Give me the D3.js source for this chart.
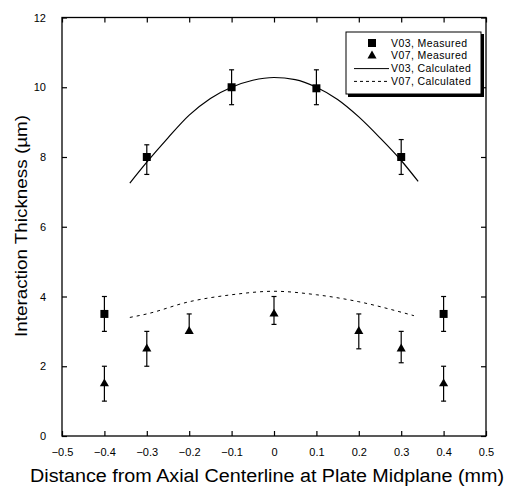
<!DOCTYPE html>
<html>
<head>
<meta charset="utf-8">
<script src="https://cdn.jsdelivr.net/npm/d3@7"></script>
<style>
  body { margin: 0; background: #fff; }
  svg { display: block; font-family: "Liberation Sans", Arial, sans-serif; }
</style>
</head>
<body>
<div id="chart"></div>
<script>
// measured points: [x, y, errLow, errHigh]
const v03Measured = [
  [-0.4, 3.5, 3.0, 4.0],
  [-0.3, 8.0, 7.5, 8.35],
  [-0.1, 10.0, 9.5, 10.5],
  [0.1, 9.97, 9.5, 10.5],
  [0.3, 8.0, 7.5, 8.5],
  [0.4, 3.5, 3.0, 4.0],
];
const v07Measured = [
  [-0.4, 1.5, 1.0, 2.0],
  [-0.3, 2.5, 2.0, 3.0],
  [-0.2, 3.0, 3.0, 3.5],
  [0, 3.5, 3.2, 4.0],
  [0.2, 3.0, 2.5, 3.5],
  [0.3, 2.5, 2.1, 3.0],
  [0.4, 1.5, 1.0, 2.0],
];
const v03Calc = [
  [-0.34, 7.25], [-0.3, 7.85], [-0.25, 8.55], [-0.2, 9.2], [-0.15, 9.68],
  [-0.1, 10.0], [-0.05, 10.2], [0, 10.28], [0.05, 10.22], [0.1, 10.0],
  [0.15, 9.65], [0.2, 9.15], [0.25, 8.55], [0.3, 7.9], [0.34, 7.3],
];
const v07Calc = [
  [-0.34, 3.4], [-0.3, 3.5], [-0.2, 3.85], [-0.1, 4.05], [0, 4.15],
  [0.1, 4.05], [0.2, 3.85], [0.3, 3.55], [0.33, 3.45],
];
const xTicks = [-0.5, -0.4, -0.3, -0.2, -0.1, 0, 0.1, 0.2, 0.3, 0.4, 0.5];
const yTicks = [0, 2, 4, 6, 8, 10, 12];
const legendItems = ["V03, Measured", "V07, Measured", "V03, Calculated", "V07, Calculated"];

const width = 506, height = 489;
const margin = { top: 17.5, right: 20, bottom: 53, left: 62 };

const svg = d3.select("#chart").append("svg")
  .attr("width", width)
  .attr("height", height);

const x = d3.scaleLinear().domain([-0.5, 0.5]).range([margin.left, width - margin.right]);
const y = d3.scaleLinear().domain([0, 12]).range([height - margin.bottom, margin.top]);

// frame
svg.append("rect")
  .attr("x", x(-0.5)).attr("y", y(12))
  .attr("width", x(0.5) - x(-0.5)).attr("height", y(0) - y(12))
  .attr("fill", "none").attr("stroke", "#000").attr("stroke-width", 1.3);

const fmtX = (d) => (d === 0 ? "0" : d3.format(".1f")(d));

// axes with inward ticks
svg.append("g")
  .attr("transform", `translate(0,${y(0)})`)
  .call(d3.axisBottom(x).tickValues(xTicks).tickSize(-5).tickPadding(12).tickFormat(fmtX))
  .call((g) => g.select(".domain").remove())
  .call((g) => g.selectAll("text").attr("font-size", 11).attr("font-family", "Liberation Sans, Arial, sans-serif"));

svg.append("g")
  .attr("transform", `translate(0,${y(12)})`)
  .call(d3.axisTop(x).tickValues(xTicks).tickSize(-5).tickFormat(""))
  .call((g) => g.select(".domain").remove());

svg.append("g")
  .attr("transform", `translate(${x(-0.5)},0)`)
  .call(d3.axisLeft(y).tickValues(yTicks).tickSize(-5).tickPadding(16))
  .call((g) => g.select(".domain").remove())
  .call((g) => g.selectAll("text").attr("font-size", 11).attr("font-family", "Liberation Sans, Arial, sans-serif"));

svg.append("g")
  .attr("transform", `translate(${x(0.5)},0)`)
  .call(d3.axisRight(y).tickValues(yTicks).tickSize(-5).tickFormat(""))
  .call((g) => g.select(".domain").remove());

svg.selectAll(".tick line").attr("stroke-width", 1.2);

// axis titles
svg.append("text")
  .attr("x", 30).attr("y", 482)
  .attr("font-size", 18)
  .attr("textLength", 474).attr("lengthAdjust", "spacingAndGlyphs")
  .text("Distance from Axial Centerline at Plate Midplane (mm)");

svg.append("text")
  .attr("transform", "translate(27,337) rotate(-90)")
  .attr("font-size", 17)
  .attr("textLength", 222).attr("lengthAdjust", "spacingAndGlyphs")
  .text("Interaction Thickness (\u00b5m)");

// calculated curves
const line = d3.line().x((d) => x(d[0])).y((d) => y(d[1])).curve(d3.curveMonotoneX);
svg.append("path").datum(v03Calc)
  .attr("d", line).attr("fill", "none").attr("stroke", "#000").attr("stroke-width", 1.2);
svg.append("path").datum(v07Calc)
  .attr("d", line).attr("fill", "none").attr("stroke", "#000").attr("stroke-width", 1)
  .attr("stroke-dasharray", "3,4");

// error bars
function errorBars(data) {
  const g = svg.append("g").attr("stroke", "#000").attr("stroke-width", 1.2);
  g.selectAll("line.v").data(data).join("line")
    .attr("x1", (d) => x(d[0])).attr("x2", (d) => x(d[0]))
    .attr("y1", (d) => y(d[2])).attr("y2", (d) => y(d[3]));
  g.selectAll("line.hi").data(data.filter((d) => d[3] > d[1])).join("line").attr("class", "hi")
    .attr("x1", (d) => x(d[0]) - 2.5).attr("x2", (d) => x(d[0]) + 2.5)
    .attr("y1", (d) => y(d[3])).attr("y2", (d) => y(d[3]));
  g.selectAll("line.lo").data(data.filter((d) => d[2] < d[1])).join("line").attr("class", "lo")
    .attr("x1", (d) => x(d[0]) - 2.5).attr("x2", (d) => x(d[0]) + 2.5)
    .attr("y1", (d) => y(d[2])).attr("y2", (d) => y(d[2]));
}
errorBars(v03Measured);
errorBars(v07Measured);

const square = d3.symbol().type(d3.symbolSquare).size(64);
const triangle = d3.symbol().type(d3.symbolTriangle).size(36);

svg.append("g").selectAll("path").data(v03Measured).join("path")
  .attr("transform", (d) => `translate(${x(d[0])},${y(d[1])})`)
  .attr("d", square).attr("fill", "#000");

svg.append("g").selectAll("path").data(v07Measured).join("path")
  .attr("transform", (d) => `translate(${x(d[0])},${y(d[1])})`)
  .attr("d", triangle).attr("fill", "#000");

// legend
const lg = svg.append("g").attr("transform", "translate(346,32)");
lg.append("rect").attr("x", 2).attr("y", 2).attr("width", 136).attr("height", 63).attr("fill", "#000");
lg.append("rect").attr("width", 135).attr("height", 62)
  .attr("fill", "#fff").attr("stroke", "#000").attr("stroke-width", 1);

const rowY = (i) => 11 + i * 12.8;
lg.selectAll("text").data(legendItems).join("text")
  .attr("x", 45).attr("y", (d, i) => rowY(i) + 3.5)
  .attr("font-size", 10.5).attr("letter-spacing", 0.4).text((d) => d);

lg.append("path").attr("transform", `translate(26,${rowY(0)})`).attr("d", square).attr("fill", "#000");
lg.append("path").attr("transform", `translate(26,${rowY(1)})`).attr("d", triangle).attr("fill", "#000");
lg.append("line").attr("x1", 8).attr("x2", 43).attr("y1", rowY(2)).attr("y2", rowY(2))
  .attr("stroke", "#000").attr("stroke-width", 1);
lg.append("line").attr("x1", 8).attr("x2", 43).attr("y1", rowY(3)).attr("y2", rowY(3))
  .attr("stroke", "#000").attr("stroke-width", 1).attr("stroke-dasharray", "3,3");
</script>
</body>
</html>
